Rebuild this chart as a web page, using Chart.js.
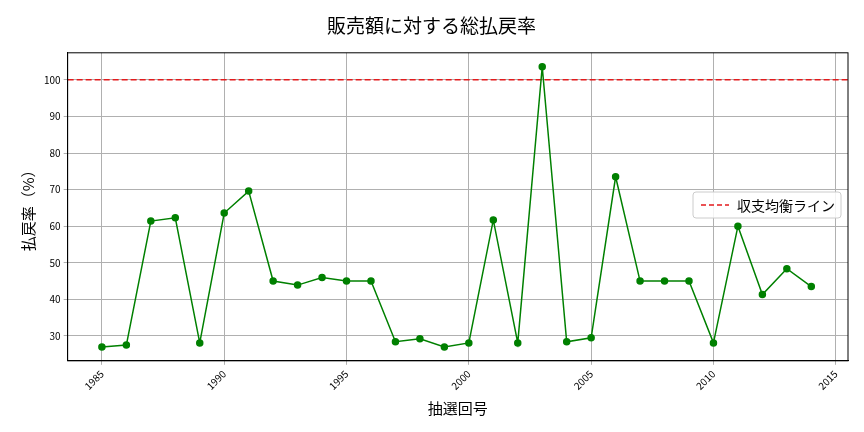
<!DOCTYPE html>
<html><head><meta charset="utf-8">
<script src="https://cdn.jsdelivr.net/npm/chart.js@4"></script>
<style>body{margin:0;background:#fff}#wrap{width:864px;height:432px}</style>
</head><body><div id="wrap"><canvas id="c"></canvas></div>
<script>
'use strict';
const years = [1985,1986,1987,1988,1989,1990,1991,1992,1993,1994,1995,1996,1997,1998,1999,2000,2001,2002,2003,2004,2005,2006,2007,2008,2009,2010,2011,2012,2013,2014];
const rates = [27.0,27.5,61.4,62.3,28.1,63.6,69.6,45.0,43.9,46.0,45.0,45.0,28.4,29.2,27.0,28.1,61.7,28.1,103.6,28.4,29.5,73.5,45.0,45.0,45.0,28.1,60.0,41.3,48.4,43.5];
const breakEven = 100;
const FONT = "'Noto Sans CJK JP', 'DejaVu Sans', sans-serif";

const legendBox = {
  id: 'legendBox',
  afterDraw(chart) {
    const ctx = chart.ctx, a = chart.chartArea;
    const w = 148, h = 26, x = a.right - w - 7, y = 192;
    ctx.save();
    // frame around plot area
    ctx.strokeStyle = '#000'; ctx.lineWidth = 1;
    ctx.strokeRect(a.left, a.top, a.right - a.left, a.bottom - a.top);
    ctx.fillStyle = 'rgba(255,255,255,0.85)';
    ctx.strokeStyle = '#ccc';
    ctx.beginPath(); ctx.roundRect(x, y, w, h, 3); ctx.fill(); ctx.stroke();
    ctx.strokeStyle = '#e41a1c'; ctx.lineWidth = 1.5; ctx.setLineDash([5, 3]);
    ctx.beginPath(); ctx.moveTo(x + 8, y + h / 2); ctx.lineTo(x + 36, y + h / 2); ctx.stroke();
    ctx.setLineDash([]);
    ctx.fillStyle = '#000'; ctx.font = '14px ' + FONT; ctx.textBaseline = 'middle';
    ctx.fillText('収支均衡ライン', x + 44, y + h / 2 + 1);
    ctx.restore();
  }
};

new Chart(document.getElementById('c'), {
  type: 'line',
  data: {
    datasets: [
      {
        data: years.map((y, i) => ({ x: y, y: rates[i] })),
        borderColor: 'green', backgroundColor: 'green', borderWidth: 1.5,
        pointRadius: 3, pointHoverRadius: 3, tension: 0
      },
      {
        data: [{ x: 1983.6, y: breakEven }, { x: 2015.5, y: breakEven }],
        borderColor: '#e41a1c', borderWidth: 1.5, borderDash: [6, 3], pointRadius: 0
      }
    ]
  },
  options: {
    responsive: true, maintainAspectRatio: false, animation: false,
    layout: { padding: { left: 15, right: 16, top: 8, bottom: 11 } },
    plugins: {
      legend: { display: false },
      tooltip: { enabled: false },
      title: { display: true, text: '販売額に対する総払戻率', color: '#000', font: { family: FONT, size: 19, weight: 'normal' }, padding: { top: 6, bottom: 16 } }
    },
    scales: {
      x: {
        type: 'linear', min: 1983.6, max: 2015.5,
        afterBuildTicks: s => { s.ticks = [1985,1990,1995,2000,2005,2010,2015].map(v => ({ value: v })); },
        ticks: { color: '#000', font: { family: FONT, size: 10 }, maxRotation: 45, minRotation: 45, callback: v => String(v) },
        grid: { color: '#b0b0b0', drawTicks: true, tickLength: 4 },
        border: { color: '#000' },
        title: { display: true, text: '抽選回号', color: '#000', font: { family: FONT, size: 15 } }
      },
      y: {
        min: 23.2, max: 107.4,
        afterBuildTicks: s => { s.ticks = [30,40,50,60,70,80,90,100].map(v => ({ value: v })); },
        ticks: { color: '#000', font: { family: FONT, size: 10 } },
        grid: { color: '#b0b0b0', tickLength: 4 },
        border: { color: '#000' },
        title: { display: true, text: '払戻率（%）', color: '#000', font: { family: FONT, size: 15 } }
      }
    }
  },
  plugins: [legendBox]
});
</script></body></html>
